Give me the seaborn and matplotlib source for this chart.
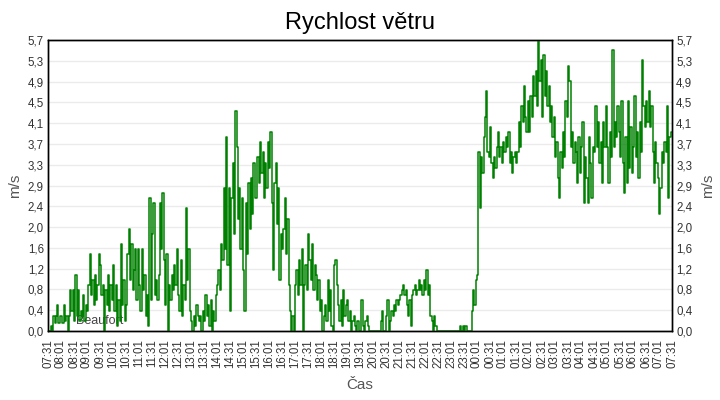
import matplotlib

matplotlib.use("Agg")
import matplotlib.pyplot as plt
import numpy as np
import pandas as pd
import seaborn as sns

ZELENA = "#008000"
SEDA_TEXT = "#333333"
SEDA_MRIZKA = "#ebebeb"

# --- data: rychlost větru (m/s), krok 3 min, po půlhodinách od 07:31 ---------
usek_0731_1031 = [
    [0.0, 0.0, 0.1, 0.0, 0.3, 0.15, 0.3, 0.5, 0.15, 0.3],
    [0.3, 0.15, 0.5, 0.2, 0.3, 0.0, 0.3, 0.8, 0.4, 0.8],
    [0.2, 1.1, 0.3, 0.8, 0.2, 0.4, 0.3, 0.7, 0.2, 0.5],
    [0.4, 0.9, 1.5, 0.7, 1.0, 0.5, 1.1, 0.6, 0.9, 1.5],
    [1.3, 0.7, 0.9, 0.0, 0.8, 0.5, 1.1, 0.4, 0.9, 0.6],
    [1.3, 0.4, 0.9, 0.1, 0.6, 0.2, 1.7, 0.5, 1.0, 0.2],
]
usek_1031_1331 = [
    [0.5, 1.5, 2.0, 1.0, 1.7, 0.8, 1.2, 1.6, 0.6, 1.6],
    [0.9, 0.4, 1.6, 0.8, 1.1, 0.3, 0.7, 0.1, 2.6, 0.6],
    [1.9, 2.5, 0.7, 1.0, 0.6, 1.1, 2.5, 1.6, 2.7, 1.4],
    [0.5, 1.5, 0.0, 0.9, 0.6, 1.1, 0.8, 1.3, 0.9, 1.6],
    [0.7, 0.4, 1.4, 0.3, 0.9, 0.6, 2.4, 1.0, 1.6, 0.4],
    [0.2, 0.0, 0.3, 0.1, 0.5, 0.3, 0.2, 0.3, 0.0, 0.4],
]
usek_1331_1631 = [
    [0.2, 0.7, 0.3, 0.5, 0.1, 0.6, 0.0, 0.4, 0.2, 0.7],
    [0.9, 1.2, 0.8, 1.7, 1.4, 2.8, 1.6, 3.8, 1.3, 2.8],
    [0.4, 2.6, 3.3, 1.9, 4.3, 3.6, 2.2, 2.8, 1.6, 2.6],
    [1.2, 0.4, 2.5, 1.5, 2.9, 2.0, 3.0, 2.3, 3.3, 2.6],
    [2.6, 3.4, 2.9, 3.7, 3.1, 3.5, 2.6, 3.3, 2.8, 3.7],
    [3.2, 3.9, 2.5, 1.2, 2.9, 3.3, 2.1, 2.8, 1.0, 1.9],
]
usek_1631_1931 = [
    [1.6, 2.0, 2.6, 1.5, 2.2, 0.9, 0.4, 0.0, 0.3, 0.0],
    [0.9, 1.2, 0.7, 1.4, 0.9, 1.6, 0.0, 0.9, 1.3, 0.8],
    [1.9, 1.4, 1.0, 1.7, 0.8, 1.3, 1.1, 0.6, 1.0, 0.4],
    [0.6, 0.0, 0.3, 0.5, 0.2, 1.0, 0.4, 0.8, 0.1, 0.0],
    [1.3, 1.4, 0.9, 0.5, 0.2, 0.6, 0.1, 0.8, 0.3, 0.5],
    [0.6, 0.2, 0.4, 0.0, 0.2, 0.3, 0.1, 0.0, 0.2, 0.0],
]
usek_1931_2231 = [
    [0.0, 0.6, 0.1, 0.0, 0.2, 0.3, 0.1, 0.0, 0.0, 0.0],
    [0.0, 0.0, 0.0, 0.0, 0.0, 0.0, 0.2, 0.4, 0.0, 0.0],
    [0.3, 0.6, 0.0, 0.2, 0.4, 0.3, 0.5, 0.4, 0.6, 0.5],
    [0.6, 0.7, 0.8, 0.9, 0.7, 0.8, 0.5, 0.3, 0.6, 0.1],
    [0.7, 0.8, 0.9, 0.7, 0.8, 1.0, 0.8, 0.9, 0.7, 1.0],
    [0.8, 1.2, 0.7, 0.9, 0.3, 0.2, 0.0, 0.3, 0.1, 0.0],
]
usek_2231_0131 = [
    [0.0, 0.0, 0.0, 0.0, 0.0, 0.0, 0.0, 0.0, 0.0, 0.0],
    [0.0, 0.0, 0.0, 0.0, 0.0, 0.0, 0.0, 0.1, 0.0, 0.1],
    [0.0, 0.1, 0.0, 0.0, 0.0, 0.0, 0.4, 0.8, 0.5, 1.0],
    [1.1, 3.5, 2.4, 3.4, 3.1, 3.8, 4.2, 4.7, 3.5, 3.4],
    [4.0, 3.3, 3.0, 3.4, 3.2, 3.6, 3.9, 3.4, 3.6, 3.3],
    [3.7, 3.5, 3.8, 3.6, 3.9, 3.3, 3.5, 3.1, 3.4, 3.5],
]
usek_0131_0431 = [
    [3.3, 3.5, 4.1, 3.6, 4.4, 4.1, 4.8, 4.2, 3.9, 4.5],
    [3.9, 4.6, 4.2, 5.0, 4.6, 5.1, 4.4, 5.7, 4.9, 5.3],
    [4.2, 5.4, 4.6, 5.1, 4.4, 4.8, 4.1, 4.4, 3.8, 4.2],
    [3.4, 3.7, 3.0, 2.6, 3.5, 3.2, 3.9, 3.4, 4.5, 4.2],
    [5.2, 4.9, 3.6, 3.9, 3.3, 3.7, 3.5, 2.9, 3.8, 3.1],
    [3.6, 4.1, 2.5, 3.4, 3.0, 2.5, 3.8, 3.3, 2.6, 3.6],
]
usek_0431_0731 = [
    [3.5, 4.4, 3.6, 4.1, 3.3, 3.7, 2.9, 4.1, 3.6, 4.4],
    [3.6, 2.9, 3.9, 3.4, 5.5, 3.6, 4.1, 3.8, 4.4, 3.9],
    [3.4, 4.5, 3.3, 2.7, 3.8, 2.9, 4.5, 3.2, 4.0, 3.1],
    [3.6, 4.6, 3.4, 3.9, 3.0, 4.1, 3.5, 5.3, 4.4, 4.0],
    [4.5, 4.1, 4.7, 4.0, 4.4, 3.5, 2.9, 3.7, 3.3, 3.0],
    [2.3, 2.8, 3.5, 3.3, 3.7, 3.5, 4.4, 2.6, 3.8, 3.9, 3.9],
]

bloky = [usek_0731_1031, usek_1031_1331, usek_1331_1631, usek_1631_1931,
         usek_1931_2231, usek_2231_0131, usek_0131_0431, usek_0431_0731]
rychlost = [v for blok in bloky for usek in blok for v in usek]
minuty = np.arange(len(rychlost)) * 3

popisky_x = pd.date_range("2024-01-01 07:31", periods=49, freq="30min").strftime("%H:%M")
pozice_x = np.arange(49) * 30
hodnoty_y = np.linspace(0, 5.7, 15)
popisky_y = [f"{v:.1f}".replace(".", ",") for v in hodnoty_y]

df = pd.DataFrame({"minuta": minuty, "rychlost": rychlost})

sns.set_theme(style="white")
plt.rcParams["font.family"] = ["Liberation Sans", "DejaVu Sans"]

fig = plt.figure(figsize=(7.2, 4.0), dpi=100)
ax = fig.add_axes([48 / 720, 1 - 331 / 400, 624 / 720, 291 / 400])

ax.set_yticks(hodnoty_y)
ax.yaxis.grid(True, color=SEDA_MRIZKA, linewidth=1)
ax.set_axisbelow(True)

# vodoznak schovaný pod křivkou
ax.text(64, 0.13, "Beaufort", fontsize=9, color="#444444", zorder=1)

sns.lineplot(data=df, x="minuta", y="rychlost", color=ZELENA, linewidth=1.1,
             drawstyle="steps-post", estimator=None, ax=ax, zorder=3)

ax.set_xlim(0, 1440)
ax.set_ylim(0, 5.7)
ax.set_xticks(pozice_x)
ax.set_xticklabels(popisky_x, rotation=90, fontsize=8.3, color=SEDA_TEXT)
ax.set_yticklabels(popisky_y, fontsize=8.3, color=SEDA_TEXT)
ax.tick_params(axis="x", direction="out", length=4, width=1, color="black", pad=2)
ax.tick_params(axis="y", length=0, pad=3)
for s in ax.spines.values():
    s.set_color("black")
    s.set_linewidth(1)

ax.set_xlabel("Čas", fontsize=11, color="#555555", labelpad=7)
ax.set_ylabel("m/s", fontsize=11, color="#555555", labelpad=4)

ax2 = ax.twinx()
ax2.set_ylim(0, 5.7)
ax2.set_yticks(hodnoty_y)
ax2.set_yticklabels(popisky_y, fontsize=8.3, color=SEDA_TEXT)
ax2.tick_params(axis="y", length=0, pad=3)
ax2.set_ylabel("m/s", fontsize=11, color="#555555", labelpad=6)
ax2.grid(False)
for s in ax2.spines.values():
    s.set_color("black")
    s.set_linewidth(1)

fig.text(0.5, 1 - 23 / 400, "Rychlost větru", ha="center", va="center",
         fontsize=17, color="black")

fig.savefig("out.png", dpi=100)
